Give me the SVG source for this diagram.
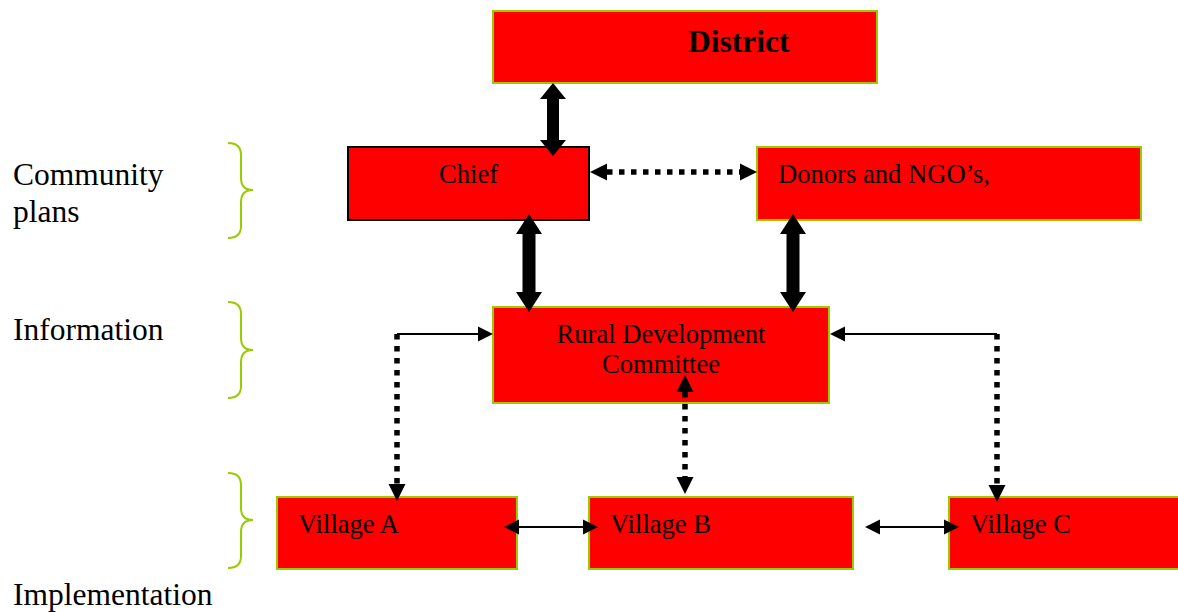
<svg xmlns="http://www.w3.org/2000/svg" width="1178" height="612" viewBox="0 0 1178 612">
<style>
.box{fill:#ff0000;stroke:#99cc00;stroke-width:2}
.boxk{fill:#ff0000;stroke:#000;stroke-width:2}
.t{font-family:"Liberation Serif","Times New Roman",serif;font-size:26.6px;fill:#000}
.lab{font-family:"Liberation Serif","Times New Roman",serif;font-size:31.5px;fill:#000}
.brace{fill:none;stroke:#99cc00;stroke-width:2}
.thin{fill:none;stroke:#000;stroke-width:2}
.dot{fill:none;stroke:#000;stroke-width:5.5;stroke-dasharray:5.5 6.5}
.thick{fill:#000}
</style>
<defs>
<marker id="ah" markerUnits="userSpaceOnUse" markerWidth="15" markerHeight="15" refX="0" refY="7.5" orient="auto-start-reverse" overflow="visible">
<path d="M0,0 L15,7.5 L0,15 z" fill="#000"/>
</marker>
<marker id="dh" markerUnits="userSpaceOnUse" markerWidth="17" markerHeight="17" refX="0" refY="8.5" orient="auto-start-reverse" overflow="visible">
<path d="M0,0 L17,8.5 L0,17 z" fill="#000"/>
</marker>
</defs>

<g id="labels">
<text class="lab" x="13" y="185">Community</text>
<text class="lab" x="13" y="222">plans</text>
<text class="lab" x="13" y="340">Information</text>
<text class="lab" x="13" y="605">Implementation</text>
<path class="brace" d="M228,143 Q241,143 241,155 V178 Q241,190 253,190 Q241,190 241,202 V226 Q241,238 228,238"/>
<path class="brace" d="M228,302 Q241,302 241,314 V338 Q241,350 253,350 Q241,350 241,362 V386 Q241,398 228,398"/>
<path class="brace" d="M228,473 Q241,473 241,485 V508 Q241,520 253,520 Q241,520 241,532 V556 Q241,568 228,568"/>
</g>

<g id="district">
<rect class="box" x="493" y="11" width="384" height="72"/>
<text class="t" x="688" y="52" style="font-weight:bold;font-size:31.5px">District</text>
</g>

<g id="chief">
<rect class="boxk" x="348" y="147" width="241" height="73"/>
<text class="t" x="439" y="183">Chief</text>
</g>

<g id="donors">
<rect class="box" x="757" y="147" width="384" height="73"/>
<text class="t" x="778" y="183">Donors and NGO’s,</text>
</g>

<g id="rdc">
<rect class="box" x="493" y="307" width="336" height="96"/>
<text class="t" x="661" y="343" text-anchor="middle">Rural Development</text>
<text class="t" x="661" y="373" text-anchor="middle">Committee</text>
</g>

<g id="villageA">
<rect class="box" x="277" y="497" width="240" height="72"/>
<text class="t" x="298" y="533">Village A</text>
</g>

<g id="villageB">
<rect class="box" x="589" y="497" width="264" height="72"/>
<text class="t" x="610" y="533">Village B</text>
</g>

<g id="villageC">
<rect class="box" x="949" y="497" width="240" height="72"/>
<text class="t" x="970" y="533">Village C</text>
</g>

<g id="connectors">
<polygon class="thick" points="553,83 566,99 559,99 559,140 566,140 553,156 540,140 547,140 547,99 540,99"/>
<polygon class="thick" points="529,214 542,234 535.5,234 535.5,292 542,292 529,312 516,292 522.5,292 522.5,234 516,234"/>
<polygon class="thick" points="793,214 806,234 799.5,234 799.5,292 806,292 793,312 780,292 786.5,292 786.5,234 780,234"/>
<line class="dot" x1="607" y1="172" x2="740" y2="172" marker-start="url(#dh)" marker-end="url(#dh)"/>
<line class="thin" x1="397" y1="334" x2="478" y2="334" marker-end="url(#ah)"/>
<line class="dot" x1="397" y1="334" x2="397" y2="484" marker-end="url(#dh)"/>
<line class="thin" x1="997" y1="334" x2="845" y2="334" marker-end="url(#ah)"/>
<line class="dot" x1="997" y1="334" x2="997" y2="485" marker-end="url(#dh)"/>
<line class="dot" x1="685" y1="392" x2="685" y2="477" marker-start="url(#dh)" marker-end="url(#dh)"/>
<line class="thin" x1="519" y1="527" x2="583" y2="527" marker-start="url(#ah)" marker-end="url(#ah)"/>
<line class="thin" x1="880" y1="527" x2="944" y2="527" marker-start="url(#ah)" marker-end="url(#ah)"/>
</g>
</svg>
